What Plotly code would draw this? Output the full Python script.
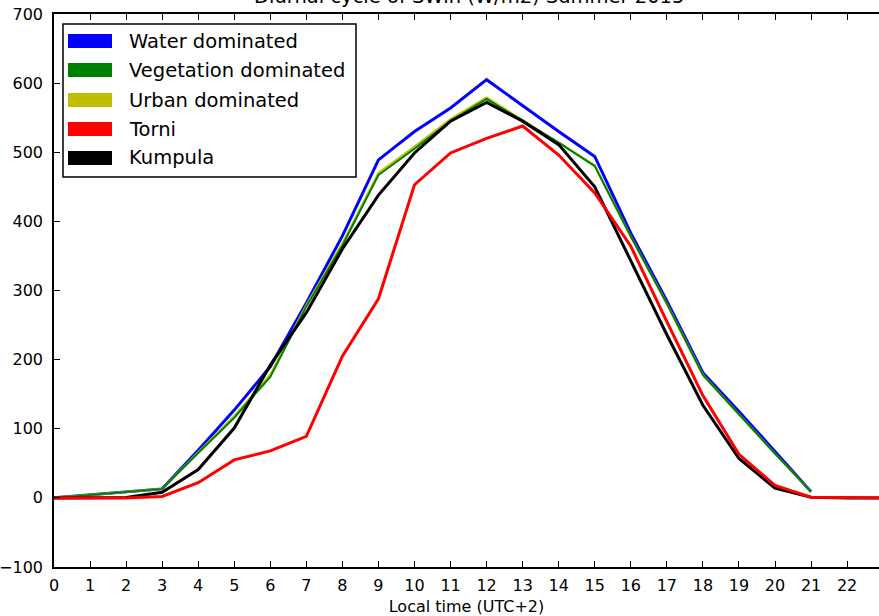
import plotly.graph_objects as go

# Hourly mean incoming shortwave radiation (W/m2), summer 2015
hours_short = list(range(0, 22))   # groups reported for hours 0..21
hours_full = list(range(0, 24))    # stations reported for hours 0..23

water = [0, 4, 9, 13, 69, 127, 190, 282, 379, 489, 530, 564, 605,
         567, 530, 494, 383, 285, 181, 125, 67, 9]
vegetation = [0, 4, 9, 13, 65, 116, 175, 277, 365, 467, 505, 545, 577,
              545, 514, 480, 378, 281, 178, 121, 64, 9]
urban = [0, 4, 9, 13, 66, 118, 178, 279, 368, 470, 508, 548, 579,
         546, 514, 481, 378, 281, 178, 121, 64, 9]
torni = [0, 0, 0, 2, 22, 55, 68, 89, 205, 288, 453, 499, 520,
         538, 496, 441, 364, 255, 148, 63, 18, 1, 0, 0]
kumpula = [0, 0, 0.5, 8, 41, 101, 192, 268, 360, 438, 499, 545, 572,
           545, 511, 450, 344, 236, 134, 57, 14, 1, 0, 0]

series_names = ["Water dominated", "Vegetation dominated", "Urban dominated", "Torni", "Kumpula"]
series_colors = ["#0000ff", "#008000", "#bfbf00", "#ff0000", "#000000"]

x_ticks = list(range(0, 23))
y_ticks = list(range(-100, 701, 100))

W, H = 879, 616
L, R, T, B = 54, 0, 14, 49
plot_w = W - L - R
plot_h = H - T - B

fig = go.Figure()

# drawing order: water, urban, vegetation, kumpula, torni
fig.add_trace(go.Scatter(x=hours_short, y=water, mode="lines",
                         line=dict(color=series_colors[0], width=3), name=series_names[0]))
fig.add_trace(go.Scatter(x=hours_short, y=urban, mode="lines",
                         line=dict(color=series_colors[2], width=2.2), name=series_names[2]))
fig.add_trace(go.Scatter(x=hours_short, y=vegetation, mode="lines",
                         line=dict(color=series_colors[1], width=2), name=series_names[1]))
fig.add_trace(go.Scatter(x=hours_full, y=kumpula, mode="lines",
                         line=dict(color=series_colors[4], width=3), name=series_names[4]))
fig.add_trace(go.Scatter(x=hours_full, y=torni, mode="lines",
                         line=dict(color=series_colors[3], width=3), name=series_names[3]))

font_family = "DejaVu Sans"


def px_x(p):
    return (p - L) / plot_w


def px_y(p):
    return 1 - (p - T) / plot_h


# legend box with colour patches
shapes = [dict(type="rect", xref="paper", yref="paper",
               x0=px_x(63), x1=px_x(356), y0=px_y(177), y1=px_y(24),
               line=dict(color="black", width=1.5), fillcolor="white", layer="above")]
annotations = []
row_y = [41, 70, 100, 129, 158]
for name, color, ry in zip(series_names, series_colors, row_y):
    shapes.append(dict(type="rect", xref="paper", yref="paper",
                       x0=px_x(68), x1=px_x(112), y0=px_y(ry + 7), y1=px_y(ry - 7),
                       line=dict(color=color, width=0), fillcolor=color, layer="above"))
    annotations.append(dict(xref="paper", yref="paper", x=px_x(127), y=px_y(ry),
                            xanchor="left", yanchor="middle", showarrow=False,
                            text=name, font=dict(family=font_family, size=19.5, color="black")))

# title, partly above the top of the canvas
annotations.append(dict(xref="paper", yref="paper", x=(883 - 54) / 2 / plot_w, y=1,
                        xanchor="center", yanchor="bottom", yshift=4, showarrow=False,
                        text="Diurnal cycle of SWin (W/m2) Summer 2015",
                        font=dict(family=font_family, size=19.5, color="black")))

fig.update_layout(
    width=W, height=H,
    margin=dict(l=L, r=R, t=T, b=B, pad=0),
    paper_bgcolor="white", plot_bgcolor="white",
    showlegend=False,
    font=dict(family=font_family, size=16, color="black"),
    shapes=shapes, annotations=annotations,
    xaxis=dict(range=[0, plot_w / 36.05], tickvals=x_ticks, ticktext=[str(v) for v in x_ticks],
               ticks="inside", ticklen=6, tickwidth=1, tickcolor="black",
               showline=True, linecolor="black", linewidth=1.5, mirror="ticks",
               showgrid=False, zeroline=False, ticklabelstandoff=3,
               title=dict(text="Local time (UTC+2)", standoff=8,
                          font=dict(family=font_family, size=16))),
    yaxis=dict(range=[-100, 700], tickvals=y_ticks,
               ticktext=[("\u2212" + str(-v)) if v < 0 else str(v) for v in y_ticks],
               ticks="inside", ticklen=6, tickwidth=1, tickcolor="black",
               showline=True, linecolor="black", linewidth=1.5,
               showgrid=False, zeroline=False, ticklabelstandoff=6),
)

fig.write_html("out.html")
